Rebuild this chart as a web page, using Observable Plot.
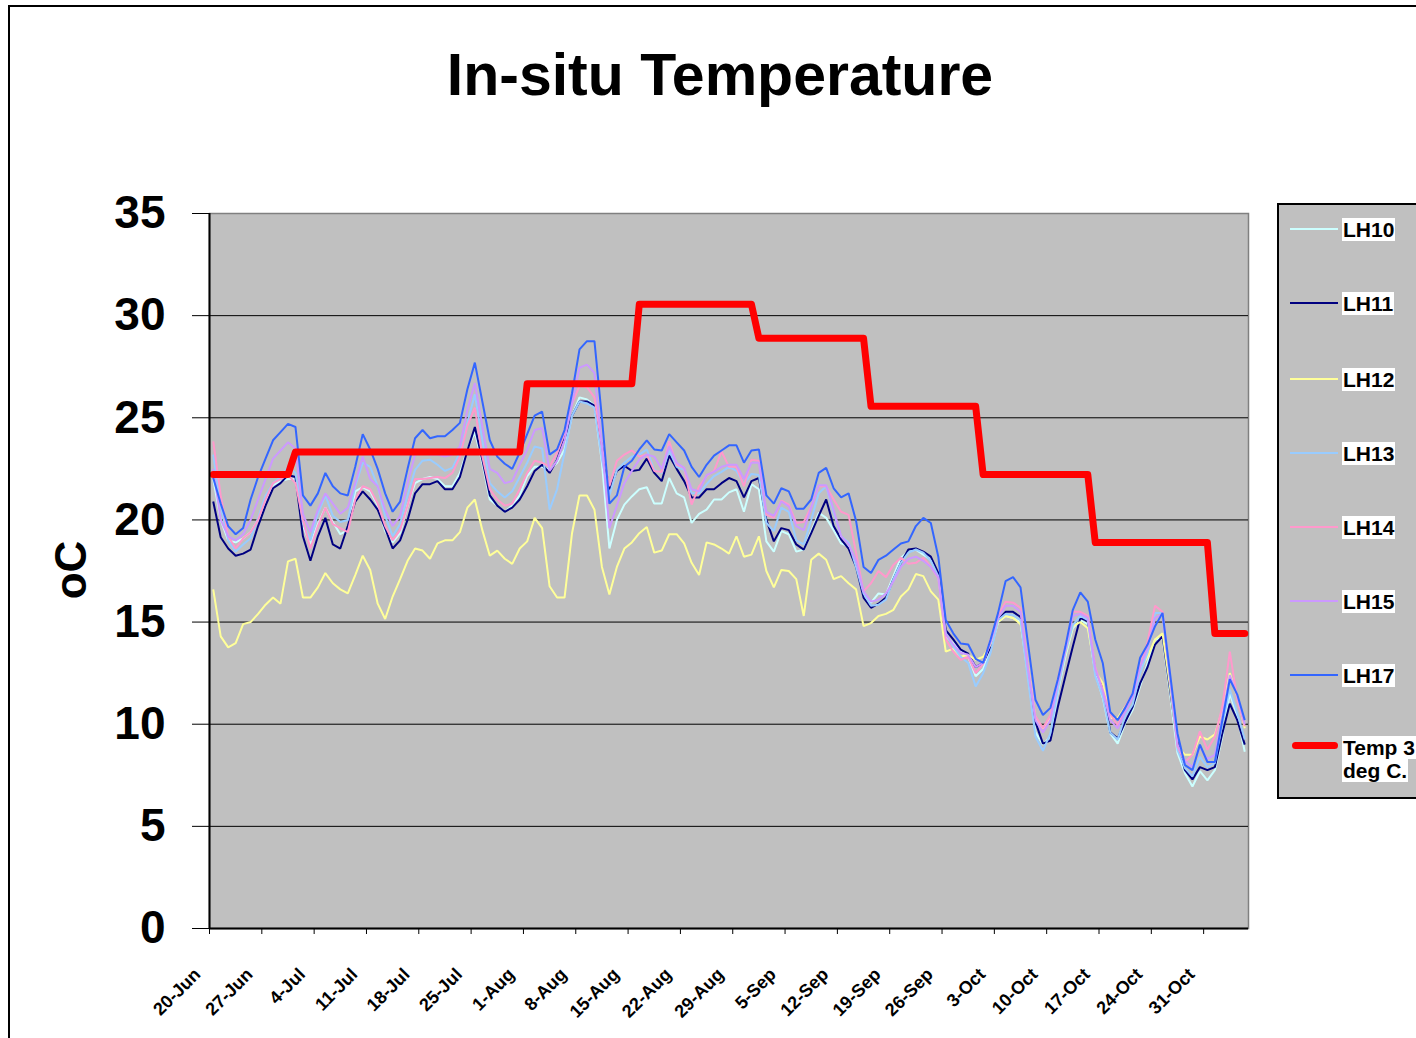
<!DOCTYPE html>
<html>
<head>
<meta charset="utf-8">
<script src="https://cdn.jsdelivr.net/npm/d3@7"></script>
<script src="https://cdn.jsdelivr.net/npm/@observablehq/plot@0.6"></script>
<style>
html, body { margin: 0; padding: 0; background: #fff; overflow: hidden; }
#wrap { position: relative; width: 1416px; height: 1038px; overflow: hidden; font-family: Arial, "Liberation Sans", sans-serif; }
#outer { position: absolute; left: 8px; top: 5px; width: 1600px; height: 1200px; border-left: 2px solid #000; border-top: 2px solid #000; }
#chart { position: absolute; left: 0; top: 0; }
#title { position: absolute; left: 0; width: 1440px; top: 46px; text-align: center; font-weight: bold; font-size: 59px; line-height: 59px; color: #000; white-space: nowrap; }
#ylabel { position: absolute; left: 71px; top: 570px; transform: translate(-50%, -50%) rotate(-90deg); font-weight: bold; font-size: 44px; line-height: 44px; white-space: nowrap; }
#legend { position: absolute; left: 1277px; top: 203px; width: 200px; height: 592px; border: 2px solid #000; background: #C0C0C0; }
.lg-line { position: absolute; height: 0; }
.lg-text { position: absolute; background: #fff; font-weight: bold; font-size: 21px; line-height: 23px; padding: 0 1px; white-space: nowrap; color: #000; }
</style>
</head>
<body>
<div id="wrap">
  <div id="outer"></div>
  <div id="chart"></div>
  <div id="title">In-situ Temperature</div>
  <div id="ylabel">oC</div>
  <div id="legend"></div>
</div>
<script>
// ---- categories (daily, starting 20-Jun) ----
const startDate = [2006, 5, 20];   // 20-Jun
const dayCount = 139;              // 20-Jun .. 5-Nov
const tickLabels = ["20-Jun","27-Jun","4-Jul","11-Jul","18-Jul","25-Jul","1-Aug","8-Aug","15-Aug","22-Aug",
  "29-Aug","5-Sep","12-Sep","19-Sep","26-Sep","3-Oct","10-Oct","17-Oct","24-Oct","31-Oct"];
const yTicks = [0, 5, 10, 15, 20, 25, 30, 35];
const seriesNames = ["LH10", "LH11", "LH12", "LH13", "LH14", "LH15", "LH17", "Temp 3 deg C."];
const seriesColors = ["#CCFFFF", "#000080", "#FFFF99", "#99CCFF", "#FF99CC", "#CC99FF", "#3366FF", "#FF0000"];

// ---- series values (deg C), one per day ----
const LH10 = [
  22.0, 20.0, 19.0, 18.9, 19.1, 19.4, 20.0, 21.0, 21.7, 21.9,
  22.0, 22.0, 19.7, 18.8, 19.8, 20.6, 19.9, 19.3, 19.5, 21.4,
  21.6, 21.4, 20.7, 19.45, 18.9, 19.35, 20.7, 21.8, 22.0, 22.1,
  22.0, 21.65, 21.65, 22.3, 23.45, 24.3, 22.8, 21.0, 20.7, 20.4,
  20.7, 21.2, 22.15, 22.6, 22.6, 22.45, 22.8, 23.45, 25.1, 26.0,
  25.9, 25.6, 22.8, 18.6, 20.0, 20.75, 21.15, 21.5, 21.6, 20.8,
  20.8, 22.05, 21.3, 21.1, 19.85, 20.3, 20.5, 21.0, 21.0, 21.35,
  21.5, 20.4, 21.75, 21.5, 18.95, 18.45, 19.45, 19.3, 18.45, 18.55,
  19.45, 20.35, 20.1, 19.5, 18.85, 18.7, 17.7, 16.25, 15.95, 16.4,
  16.35, 17.25, 18.15, 18.45, 18.55, 18.3, 18.05, 17.25, 14.3, 13.95,
  13.55, 13.3, 12.35, 12.7, 13.7, 15.0, 15.3, 15.2, 15.0, 12.4,
  9.6, 9.0, 9.4, 11.6, 13.3, 14.7, 15.1, 14.9, 12.5, 11.3,
  9.55, 9.05, 10.05, 10.7, 11.85, 13.0, 14.15, 14.2, 11.5, 8.6,
  7.6, 6.95, 7.7, 7.25, 7.75, 9.4, 11.5, 10.4, 8.65
];
const LH11 = [
  20.9, 19.15, 18.6, 18.25, 18.35, 18.55, 19.7, 20.7, 21.55, 21.8,
  22.2, 22.1, 19.2, 18.0, 19.2, 20.1, 18.8, 18.6, 19.7, 20.9,
  21.4, 21.0, 20.5, 19.6, 18.6, 19.0, 20.0, 21.3, 21.75, 21.75,
  21.9, 21.5, 21.5, 22.1, 23.4, 24.55, 22.95, 21.2, 20.7, 20.4,
  20.6, 21.0, 21.65, 22.4, 22.7, 22.3, 22.95, 24.0, 25.1, 25.8,
  25.8, 25.6, 23.6, 21.5, 22.4, 22.65, 22.4, 22.45, 23.0, 22.3,
  21.9, 23.15, 22.5, 21.9, 21.1, 21.1, 21.5, 21.5, 21.8, 22.05,
  21.9, 21.1, 21.9, 22.05, 20.0, 18.95, 19.6, 19.5, 18.8, 18.55,
  19.35, 20.2, 21.0, 19.7, 19.05, 18.6, 17.7, 16.2, 15.7, 15.9,
  16.2, 17.1, 17.9, 18.55, 18.6, 18.45, 18.2, 17.4, 14.6, 14.15,
  13.65, 13.45, 12.8, 13.0, 13.8, 15.1, 15.5, 15.5, 15.25, 12.65,
  10.1, 9.05, 9.2, 10.85, 12.35, 13.8, 15.2, 15.05, 12.65, 11.85,
  9.6, 9.3, 10.1, 10.85, 12.0, 12.8, 13.9, 14.3, 11.7, 9.1,
  7.75, 7.3, 7.9, 7.75, 7.9, 9.55, 11.0, 10.2, 9.0
];
const LH12 = [
  16.6, 14.3, 13.76, 13.97, 14.9, 15.0, 15.4, 15.85, 16.2, 15.9,
  17.97, 18.1, 16.2, 16.2, 16.7, 17.4, 16.9, 16.6, 16.4, 17.3,
  18.25, 17.55, 15.9, 15.15, 16.25, 17.1, 18.0, 18.6, 18.5, 18.1,
  18.85, 19.0, 19.0, 19.4, 20.6, 21.0, 19.5, 18.25, 18.5, 18.1,
  17.85, 18.6, 18.95, 20.1, 19.6, 16.75, 16.2, 16.2, 19.35, 21.2,
  21.2, 20.5, 17.7, 16.35, 17.7, 18.6, 18.9, 19.35, 19.65, 18.4,
  18.5, 19.3, 19.3, 18.85, 17.9, 17.3, 18.9, 18.8, 18.6, 18.35,
  19.2, 18.2, 18.3, 19.2, 17.5, 16.7, 17.55, 17.5, 17.1, 15.3,
  18.05, 18.35, 18.05, 17.1, 17.25, 16.9, 16.6, 14.8, 14.95, 15.3,
  15.4, 15.6, 16.25, 16.6, 17.35, 17.25, 16.5, 16.1, 13.55, 13.7,
  13.3, 13.4, 13.15, 13.3, 13.9, 15.0, 15.3, 15.2, 14.9, 12.8,
  10.3, 9.8, 10.3, 11.8, 13.4, 14.8, 15.0, 14.7, 12.6, 12.0,
  10.3, 10.3, 10.85, 11.35, 12.65, 13.3, 14.15, 14.45, 11.85, 8.9,
  8.5, 8.5, 9.4, 9.25, 9.5, 10.7, 12.5, 11.35, 9.8
];
const LH13 = [
  23.2, 20.7, 19.0, 18.45, 18.8, 19.1, 20.1, 21.2, 21.8, 22.1,
  22.6, 22.3, 19.85, 19.0, 20.3, 21.2, 20.2, 19.9, 20.0, 21.65,
  22.8, 22.6, 21.65, 20.2, 19.2, 19.8, 21.2, 22.45, 22.9, 22.95,
  22.7, 22.4, 22.55, 23.3, 24.75, 26.15, 23.9, 21.8, 21.4, 21.1,
  21.4, 22.1, 22.8, 23.6, 23.5, 20.5, 21.5, 23.3, 25.1, 25.8,
  25.7, 25.5, 22.95, 21.2, 22.45, 22.8, 23.1, 23.2, 23.45, 22.45,
  22.3, 23.4, 22.6, 22.45, 21.3, 21.3, 21.75, 22.15, 22.35, 22.6,
  22.4, 21.75, 22.25, 22.2, 19.85, 19.45, 20.6, 20.4, 19.0, 18.8,
  20.0, 21.3, 21.65, 20.35, 19.2, 18.9, 17.7, 16.4, 15.8, 15.85,
  16.1, 17.1, 17.9, 18.4, 18.55, 18.4, 18.0, 17.25, 14.45, 13.8,
  13.3, 13.0, 11.85, 12.5, 13.5, 15.1, 15.4, 15.35, 15.1, 12.2,
  9.4, 8.7, 9.55, 11.7, 13.5, 14.85, 15.3, 15.1, 12.35, 11.35,
  9.6, 9.25, 10.4, 10.95, 12.5, 13.5, 15.45, 15.45, 12.2, 8.75,
  7.85, 7.45, 8.4, 7.9, 8.1, 10.05, 11.7, 10.55, 9.25
];
const LH14 = [
  23.85, 21.2, 19.2, 18.6, 19.1, 19.4, 20.0, 21.0, 21.8, 22.0,
  22.2, 21.8, 20.0, 18.6, 19.7, 20.6, 19.8, 19.6, 19.4, 21.0,
  21.65, 21.5, 20.8, 19.7, 19.0, 19.5, 20.7, 22.0, 22.0, 22.05,
  22.1, 22.05, 22.3, 23.1, 24.6, 25.5, 23.1, 21.5, 21.0, 20.7,
  20.8, 21.5, 22.3, 22.9, 22.8, 22.6, 23.3, 24.25, 25.7, 26.55,
  26.5, 26.0, 23.6, 21.65, 22.9, 23.2, 23.4, 23.1, 23.2, 22.4,
  22.35, 23.85, 22.7, 22.55, 20.75, 21.65, 22.15, 22.4, 23.35, 22.6,
  22.6, 21.65, 22.95, 22.9, 20.25, 20.1, 20.95, 20.75, 19.85, 19.9,
  20.65, 21.65, 21.65, 21.0, 20.4, 20.25, 18.4, 16.5, 16.9, 17.5,
  17.2, 17.8, 18.15, 17.85, 17.9, 18.15, 17.7, 17.15, 14.15, 13.55,
  13.15, 13.3, 12.5, 12.95, 14.15, 15.3, 16.0, 15.95, 15.7, 12.8,
  10.4, 9.8, 10.45, 12.2, 13.8, 15.5, 15.5, 15.3, 12.8, 11.7,
  10.5, 9.95, 10.85, 11.5, 12.8, 14.05, 15.8, 15.5, 12.35, 8.9,
  8.15, 8.5, 9.65, 8.75, 9.4, 10.85, 13.55, 11.2, 9.9
];
const LH15 = [
  22.5, 20.0, 19.2, 19.0, 19.3, 20.0, 21.0, 22.0, 23.0, 23.4,
  23.8, 23.5, 20.3, 19.4, 20.5, 21.3, 20.8, 20.3, 20.6, 21.8,
  23.1, 22.0, 21.65, 20.5, 19.7, 20.2, 21.8, 23.2, 23.3, 23.2,
  23.2, 23.1, 23.2, 23.6, 25.4, 26.7, 24.6, 22.5, 22.3, 21.8,
  21.9, 22.7, 23.45, 24.4, 24.5, 22.4, 22.9, 23.9, 25.7, 27.45,
  27.6, 27.2, 23.6, 19.6, 20.7, 21.8, 22.4, 22.95, 23.2, 23.1,
  22.5, 23.6, 22.8, 22.55, 21.5, 21.4, 22.2, 22.35, 22.6, 22.7,
  22.7, 22.0, 22.8, 22.8, 20.4, 20.2, 20.9, 20.65, 19.7, 19.5,
  20.6, 21.7, 21.7, 20.5, 19.2, 18.8, 18.0, 16.5, 16.0, 16.1,
  16.4, 17.0, 17.7, 18.1, 18.2, 18.0, 17.7, 17.2, 14.4, 13.9,
  13.5, 13.4, 12.8, 13.0, 14.0, 15.2, 15.8, 15.8, 15.5, 12.7,
  10.2, 9.6, 10.2, 12.0, 13.6, 15.3, 15.4, 15.2, 12.7, 11.6,
  10.2, 9.8, 10.6, 11.3, 12.8, 13.7, 15.2, 15.4, 12.3, 9.0,
  8.2, 7.9, 8.9, 8.3, 8.5, 10.4, 12.4, 11.4, 10.0
];
const LH17 = [
  22.05, 20.8, 19.7, 19.3, 19.6, 21.0, 22.1, 23.0, 23.9, 24.3,
  24.7, 24.55, 21.2, 20.7, 21.3, 22.3, 21.65, 21.3, 21.2, 22.6,
  24.2, 23.45, 22.5, 21.3, 20.4, 20.9, 22.5, 24.0, 24.4, 24.0,
  24.1, 24.1, 24.4, 24.75, 26.4, 27.7, 25.8, 23.9, 23.1, 22.75,
  22.5, 23.3, 24.2, 25.1, 25.3, 23.2, 23.45, 24.4, 26.2, 28.35,
  28.75, 28.75, 25.0, 20.8, 21.2, 22.6, 22.9, 23.45, 23.9, 23.45,
  23.4, 24.2, 23.8, 23.4, 22.6, 22.1, 22.7, 23.15, 23.4, 23.65,
  23.65, 22.8, 23.4, 23.45, 21.2, 20.8, 21.55, 21.4, 20.55, 20.55,
  21.0, 22.3, 22.55, 21.55, 21.1, 21.3, 19.95, 17.7, 17.4, 18.05,
  18.25, 18.55, 18.85, 18.95, 19.7, 20.1, 19.85, 18.2, 15.1, 14.45,
  13.95, 13.9, 13.2, 13.0, 14.15, 15.45, 17.0, 17.2, 16.7, 13.95,
  11.2, 10.45, 10.8, 12.2, 13.8, 15.6, 16.45, 16.0, 14.15, 13.0,
  10.6, 10.2, 10.8, 11.5, 13.25, 13.9, 14.8, 15.45, 12.5, 9.55,
  8.0, 7.75, 9.0, 8.15, 8.15, 10.2, 12.2, 11.45, 10.2
];
const TEMP = [
  22.22, 22.22, 22.22, 22.22, 22.22, 22.22, 22.22, 22.22, 22.22, 22.22,
  22.22, 23.33, 23.33, 23.33, 23.33, 23.33, 23.33, 23.33, 23.33, 23.33,
  23.33, 23.33, 23.33, 23.33, 23.33, 23.33, 23.33, 23.33, 23.33, 23.33,
  23.33, 23.33, 23.33, 23.33, 23.33, 23.33, 23.33, 23.33, 23.33, 23.33,
  23.33, 23.33, 26.67, 26.67, 26.67, 26.67, 26.67, 26.67, 26.67, 26.67,
  26.67, 26.67, 26.67, 26.67, 26.67, 26.67, 26.67, 30.56, 30.56, 30.56,
  30.56, 30.56, 30.56, 30.56, 30.56, 30.56, 30.56, 30.56, 30.56, 30.56,
  30.56, 30.56, 30.56, 28.89, 28.89, 28.89, 28.89, 28.89, 28.89, 28.89,
  28.89, 28.89, 28.89, 28.89, 28.89, 28.89, 28.89, 28.89, 25.56, 25.56,
  25.56, 25.56, 25.56, 25.56, 25.56, 25.56, 25.56, 25.56, 25.56, 25.56,
  25.56, 25.56, 25.56, 22.22, 22.22, 22.22, 22.22, 22.22, 22.22, 22.22,
  22.22, 22.22, 22.22, 22.22, 22.22, 22.22, 22.22, 22.22, 18.89, 18.89,
  18.89, 18.89, 18.89, 18.89, 18.89, 18.89, 18.89, 18.89, 18.89, 18.89,
  18.89, 18.89, 18.89, 18.89, 14.44, 14.44, 14.44, 14.44, 14.44
];
const seriesValues = [LH10, LH11, LH12, LH13, LH14, LH15, LH17, TEMP];

// ---- build table ----
const DAY = 86400000;
const t0 = Date.UTC(startDate[0], startDate[1], startDate[2]);
const days = d3.range(dayCount).map(i => new Date(t0 + i * DAY + DAY / 2)); // point in middle of each day
const xDomain = [new Date(t0), new Date(t0 + dayCount * DAY)];
const tickDates = tickLabels.map((_, i) => new Date(t0 + i * 7 * DAY));
const labelByTime = new Map(tickDates.map((d, i) => [+d, tickLabels[i]]));

const rows = [];
seriesNames.forEach((name, s) => {
  seriesValues[s].forEach((v, i) => rows.push({series: name, date: days[i], value: v}));
});

const lineMarks = seriesNames.map((name, s) => {
  const isTemp = s === seriesNames.length - 1;
  return Plot.line(rows.filter(r => r.series === name), {
    x: "date", y: "value",
    stroke: seriesColors[s],
    strokeWidth: isTemp ? 7 : 2,
    strokeLinejoin: isTemp ? "round" : "miter",
    strokeLinecap: isTemp ? "round" : "butt",
    curve: "linear"
  });
});

const chart = Plot.plot({
  width: 1416,
  height: 1038,
  marginLeft: 209,
  marginRight: 168,
  marginTop: 213,
  marginBottom: 110,
  style: {fontFamily: "Arial, 'Liberation Sans', sans-serif", background: "transparent", color: "#000", overflow: "visible"},
  x: {type: "utc", domain: xDomain, label: null},
  y: {domain: [0, 35], label: null},
  marks: [
    Plot.frame({fill: "#C0C0C0", stroke: "#808080", strokeWidth: 1.5}),
    Plot.ruleY(yTicks.filter(v => v > 0 && v < 35), {stroke: "#000", strokeWidth: 1}),
    ...lineMarks,
    Plot.ruleX([xDomain[0]], {stroke: "#000", strokeWidth: 2}),
    Plot.ruleY([0], {stroke: "#000", strokeWidth: 2}),
    Plot.axisY({ticks: yTicks, tickSize: 17, tickPadding: 27, fontSize: 46, fontWeight: "bold", label: null, tickFormat: d => String(d)}),
    // tick marks only
    Plot.axisX({ticks: tickDates, tickSize: 6, tickFormat: () => "", label: null}),
    // rotated labels only
    Plot.axisX({ticks: tickDates, tickSize: 0, tickPadding: 43, dx: -12, tickRotate: -45, fontSize: 18, fontWeight: "bold", label: null,
      tickFormat: d => labelByTime.get(+d)})
  ]
});
document.getElementById("chart").appendChild(chart);

// ---- legend ----
const legend = document.getElementById("legend");
const legendY = [229, 303, 379, 453, 527, 601, 675, 745]; // absolute y of sample lines
const L0 = 1277, T0 = 203;
seriesNames.forEach((name, s) => {
  const isTemp = s === seriesNames.length - 1;
  const ln = document.createElement("div");
  ln.className = "lg-line";
  const w = isTemp ? 7 : 2;
  ln.style.left = (isTemp ? 1292 : 1290) - L0 - 2 + "px";
  ln.style.width = (isTemp ? 46 : 48) + "px";
  ln.style.top = (legendY[s] - w / 2 - T0 - 2) + "px";
  ln.style.borderTop = w + "px solid " + seriesColors[s];
  if (isTemp) { ln.style.borderRadius = "4px"; ln.style.height = "0"; }
  legend.appendChild(ln);
  if (!isTemp) {
    const tx = document.createElement("div");
    tx.className = "lg-text";
    tx.textContent = name;
    tx.style.left = (1342 - L0 - 2) + "px";
    tx.style.top = (legendY[s] - 11 - T0 - 2) + "px";
    legend.appendChild(tx);
  } else {
    const parts = ["Temp 3", "deg C."];
    parts.forEach((p, k) => {
      const tx = document.createElement("div");
      tx.className = "lg-text";
      tx.textContent = p;
      tx.style.left = (1342 - L0 - 2) + "px";
      tx.style.top = (legendY[s] - 9 + k * 23 - T0 - 2) + "px";
      legend.appendChild(tx);
    });
  }
});
</script>
</body>
</html>
